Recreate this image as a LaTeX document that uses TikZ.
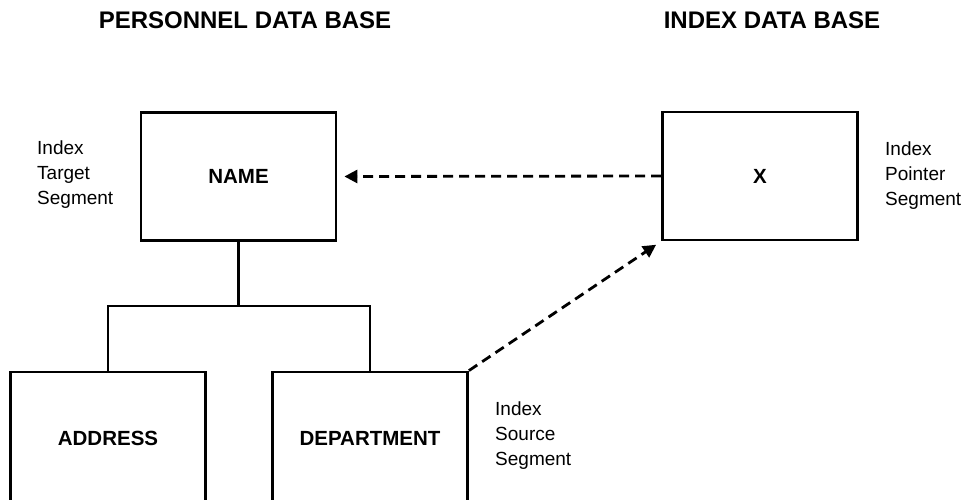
\documentclass[tikz,border=0pt]{standalone}
\usepackage{fontspec}
\setmainfont{Liberation Sans}
\usetikzlibrary{arrows.meta}
\begin{document}
\begin{tikzpicture}[x=1pt,y=-1pt,
  seg/.style={draw=black, line width=2.8pt, minimum width=195pt,
    inner sep=0pt, font=\fontsize{20.5}{24}\selectfont\bfseries},
  link/.style={line width=2.8pt},
  ptr/.style={line width=2.8pt, dash pattern=on 10pt off 6pt,
    -{Triangle[length=13pt,width=13pt]}, shorten >=6pt},
  title/.style={font=\fontsize{24}{28}\selectfont\bfseries},
  note/.style={anchor=west, align=left, inner sep=0pt,
    font=\fontsize{19}{25}\selectfont}]
\useasboundingbox (0,0) rectangle (962,499);
\clip (0,0) rectangle (962,499);

% headings
\node[title] (hp) at (245,20) {PERSONNEL DATA BASE};
\node[title] (hi) at (772,20) {INDEX DATA BASE};

% segments
\node[seg, minimum height=128pt] (name) at (238.5,176.5) {NAME};
\node[seg, minimum height=128pt] (x)    at (760,176) {X};
\node[seg, minimum height=132pt] (addr) at (108,438) {ADDRESS};
\node[seg, minimum height=132pt] (dept) at (370,438) {DEPARTMENT};

% side notes
\node[note] (nt) at (37,175)  {Index\\Target\\Segment};
\node[note] (np) at (885,176) {Index\\Pointer\\Segment};
\node[note] (ns) at (495,436) {Index\\Source\\Segment};

% hierarchy
\coordinate (bus) at (238.5,306);
\draw[link] (name.south) -- (bus);
\draw[link] (addr.north) |- (bus) -| (dept.north);

% index pointers
\draw[ptr, shorten >=7pt] (x.west) -- (name.east);
\draw[ptr] (dept.north east) -- (x.south west);
\end{tikzpicture}
\end{document}
